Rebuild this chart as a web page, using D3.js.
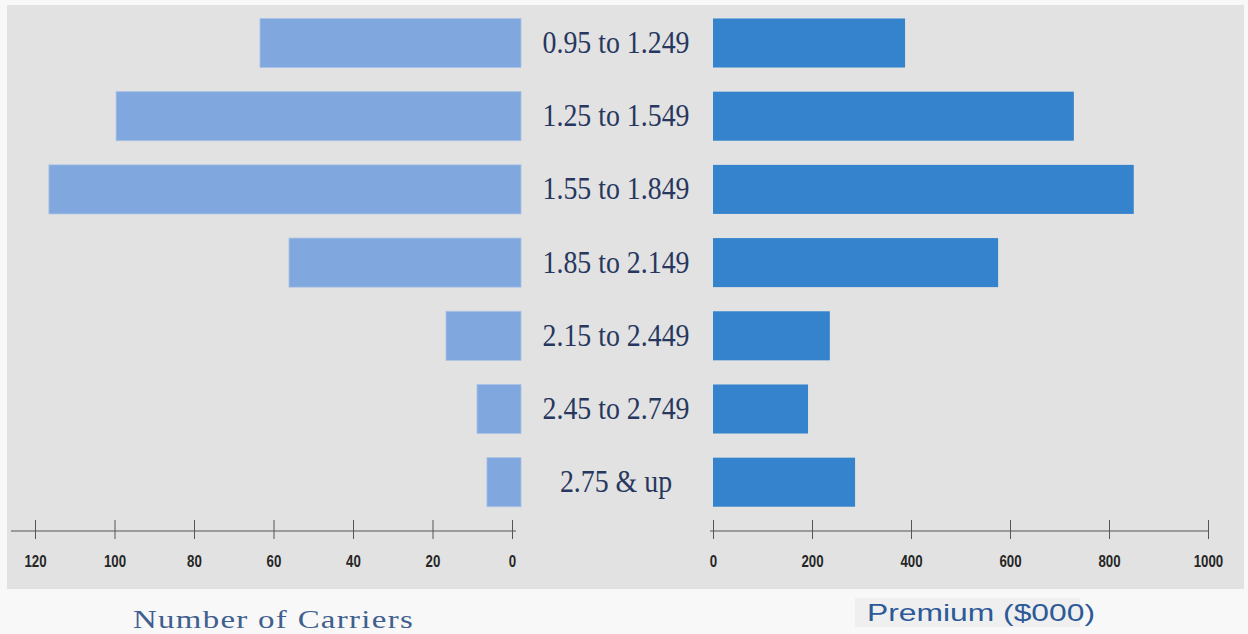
<!DOCTYPE html>
<html>
<head>
<meta charset="utf-8">
<script src="https://cdn.jsdelivr.net/npm/d3@7"></script>
<style>
body { margin: 0; background: #f8f8f8; }
.cat { font-family: "Liberation Serif", "Times New Roman", serif; font-size: 32px; fill: #27375e; }
.tick text { font-family: "Liberation Sans Narrow", "Arial Narrow", "Liberation Sans", sans-serif; font-weight: bold; font-size: 17px; fill: #262626; }
.axis path, .axis line { stroke: #555; }
</style>
</head>
<body>
<script>
// categories (loss ratio ranges)
var ranges = ["0.95 to 1.249", "1.25 to 1.549", "1.55 to 1.849", "1.85 to 2.149",
              "2.15 to 2.449", "2.45 to 2.749", "2.75 & up"];
// number of carriers per range
var carriers = [63.4, 99.6, 116.5, 56.1, 16.6, 8.8, 6.3];
// premium in $000 per range
var premium = [388, 729, 850, 576, 236, 192, 287];
var carrierTicks = [120, 100, 80, 60, 40, 20, 0];
var premiumTicks = [0, 200, 400, 600, 800, 1000];

var width = 1248, height = 634;

var svg = d3.select("body").append("svg")
    .attr("width", width)
    .attr("height", height);

// gray panel
svg.append("rect")
    .attr("x", 7).attr("y", 5)
    .attr("width", 1237).attr("height", 584)
    .attr("fill", "#e2e2e2");

var y = d3.scaleBand()
    .domain(ranges)
    .range([6.4, 518.8])
    .paddingInner(0.33)
    .paddingOuter(0.165);

var xL = d3.scaleLinear().domain([0, 120]).range([512, 35]);
var xR = d3.scaleLinear().domain([0, 1000]).range([713, 1208]);

// squeeze text horizontally (the original artwork is condensed)
function squeeze(sel, k) {
  sel.each(function() {
    var w = this.getComputedTextLength();
    d3.select(this).attr("textLength", w * k).attr("lengthAdjust", "spacingAndGlyphs");
  });
}

// left bars: number of carriers
svg.append("g").selectAll("rect")
    .data(ranges)
  .enter().append("rect")
    .attr("x", function(d, i) { return xL(carriers[i]); })
    .attr("y", function(d) { return y(d); })
    .attr("width", function(d, i) { return xL(0) + 9 - xL(carriers[i]); })
    .attr("height", y.bandwidth())
    .attr("fill", "#80a7de")
    .attr("stroke", "#a8c2e6")
    .attr("stroke-width", 0.8);

// right bars: premium
svg.append("g").selectAll("rect")
    .data(ranges)
  .enter().append("rect")
    .attr("x", xR(0))
    .attr("y", function(d) { return y(d); })
    .attr("width", function(d, i) { return xR(premium[i]) - xR(0); })
    .attr("height", y.bandwidth())
    .attr("fill", "#3583cc");

// category labels in the middle
svg.append("g").selectAll("text")
    .data(ranges)
  .enter().append("text")
    .attr("class", "cat")
    .attr("x", 616)
    .attr("y", function(d) { return y(d) + y.bandwidth() / 2 + 10; })
    .attr("text-anchor", "middle")
    .text(function(d) { return d; })
    .call(squeeze, 0.87);

// axes
var axisY = 531;
var leftAxis = svg.append("g")
    .attr("class", "axis")
    .attr("transform", "translate(0," + axisY + ")")
    .call(d3.axisBottom(xL).tickValues(carrierTicks).tickFormat(d3.format("d")).tickSize(0).tickPadding(0));
var rightAxis = svg.append("g")
    .attr("class", "axis")
    .attr("transform", "translate(0," + axisY + ")")
    .call(d3.axisBottom(xR).tickValues(premiumTicks).tickFormat(d3.format("d")).tickSize(0).tickPadding(0));

[leftAxis, rightAxis].forEach(function(g) {
  g.select(".domain").remove();
  g.selectAll(".tick line").attr("y1", -11).attr("y2", 8);
  g.selectAll(".tick text").attr("y", 36).attr("dy", 0).call(squeeze, 0.78);
});
leftAxis.append("line").attr("x1", 11).attr("x2", 516).attr("stroke", "#555");
rightAxis.append("line").attr("x1", 710).attr("x2", 1208).attr("stroke", "#555");

// axis titles
svg.append("text")
    .attr("x", 133).attr("y", 628)
    .attr("textLength", 281).attr("lengthAdjust", "spacingAndGlyphs")
    .style("font-family", "'Liberation Serif', serif")
    .style("font-size", "25px")
    .style("letter-spacing", "1px")
    .style("fill", "#3f5f8f")
    .text("Number of Carriers");

svg.append("rect")
    .attr("x", 855).attr("y", 598)
    .attr("width", 225).attr("height", 29)
    .attr("fill", "#efefef");
svg.append("text")
    .attr("x", 867).attr("y", 621)
    .attr("textLength", 228).attr("lengthAdjust", "spacingAndGlyphs")
    .style("font-family", "'Liberation Sans', Arial, sans-serif")
    .style("font-size", "24px")
    .style("fill", "#2d5a97")
    .text("Premium ($000)");
</script>
</body>
</html>
